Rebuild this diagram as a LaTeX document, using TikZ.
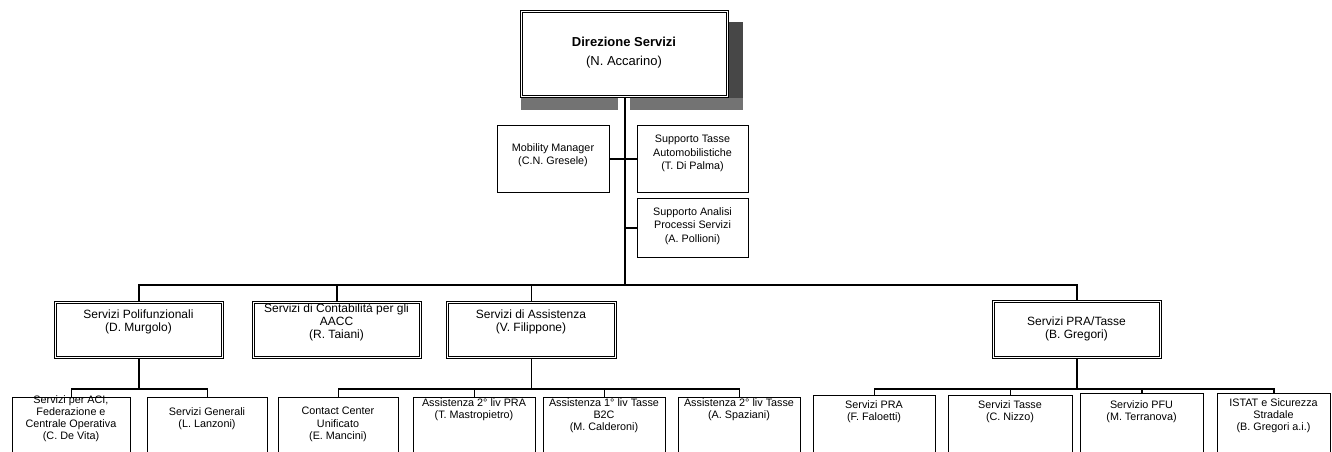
\documentclass[tikz,border=0pt]{standalone}
\usepackage{fontspec}
\setmainfont{Liberation Sans}
\begin{document}
\begin{tikzpicture}[x=1pt,y=-1pt,
  boxbase/.style={anchor=north west, inner sep=0pt, fill=white},
  topbox/.style={boxbase, draw, double, double distance=1.3pt, line width=1.2pt},
  midbox/.style={boxbase, draw, double, double distance=0.8pt, line width=0.9pt},
  sidebox/.style={boxbase, draw, line width=1.3pt},
  leafbox/.style={boxbase, draw, line width=1.3pt},
  ttop/.style={anchor=north, align=center, inner sep=0pt, font=\fontsize{13}{19}\selectfont},
  tside/.style={anchor=north, align=center, inner sep=0pt, font=\fontsize{10.8}{13.5}\selectfont},
  tmid/.style={anchor=north, align=center, inner sep=0pt, font=\fontsize{12}{13}\selectfont},
  tleaf/.style={anchor=north, align=center, inner sep=0pt, font=\fontsize{10.8}{12.3}\selectfont},
  conn/.style={line width=1.5pt},
  trunk/.style={line width=2pt}
]
\useasboundingbox (0,0) rectangle (1332,452);
\clip (0,0) rectangle (1332,452);

% box given by its corners: name, x1, y1, x2, y2, style
\newcommand\orgbox[6]{%
  \node[#6, minimum width={(#4-#2)*1pt}, minimum height={(#5-#3)*1pt}] (#1) at (#2,#3) {};}

% shadow band behind the head box
\fill[black!72] (729,22) rectangle (743,110);
\fill[black!55] (521,98) rectangle (618,110);
\fill[black!55] (630,98) rectangle (743,110);

% buses
\coordinate (busA) at (0,285);
\coordinate (busB) at (0,389);

% head
\orgbox{dir}{521}{11}{727}{96}{topbox}
\node[ttop] (dir-t) at (624,37) {\bfseries Direzione Servizi\\(N. Accarino)};

% staff units
\orgbox{mob}{497}{125}{609}{192}{sidebox}
\orgbox{stasse}{637}{125}{748}{192}{sidebox}
\orgbox{sanal}{637}{198}{748}{257}{sidebox}
\node[tside] (mob-t) at (553,143) {Mobility Manager\\(C.N. Gresele)};
\node[tside] (stasse-t) at (692.5,135) {Supporto Tasse\\Automobilistiche\\(T. Di Palma)};
\node[tside] (sanal-t) at (692.5,207) {Supporto Analisi\\Processi Servizi\\(A. Pollioni)};

% second level
\orgbox{poli}{55}{302}{222}{357}{midbox}
\orgbox{conta}{253}{302}{420}{357}{midbox}
\orgbox{assi}{447}{302}{615}{357}{midbox}
\orgbox{pratasse}{993}{301}{1160}{357}{midbox}
\node[tmid] (poli-t) at (138.5,310) {Servizi Polifunzionali\\(D. Murgolo)};
\node[tmid] (conta-t) at (336.5,303) {Servizi di Contabilità per gli\\AACC\\(R. Taiani)};
\node[tmid] (assi-t) at (531,310) {Servizi di Assistenza\\(V. Filippone)};
\node[tmid] (pratasse-t) at (1076.5,317) {Servizi PRA/Tasse\\(B. Gregori)};

% third level
\orgbox{aci}{12}{397}{130}{470}{leafbox}
\orgbox{gen}{147}{397}{267}{470}{leafbox}
\orgbox{cc}{278}{397}{398}{470}{leafbox}
\orgbox{apra}{413}{397}{535}{470}{leafbox}
\orgbox{ab2c}{543}{397}{665}{470}{leafbox}
\orgbox{atasse}{678}{397}{800}{470}{leafbox}
\orgbox{spra}{813}{395}{935}{470}{leafbox}
\orgbox{stas}{948}{395}{1072}{470}{leafbox}
\orgbox{pfu}{1080}{393}{1203}{470}{leafbox}
\orgbox{istat}{1217}{393}{1330}{470}{leafbox}

\node[tleaf] (aci-t) at (71,395) {Servizi per ACI,\\Federazione e\\Centrale Operativa\\(C. De Vita)};
\node[tleaf] (gen-t) at (207,407) {Servizi Generali\\(L. Lanzoni)};
\node[tleaf] (cc-t) at (338,407) {Contact Center\\Unificato\\(E. Mancini)};
\node[tleaf] (apra-t) at (474,398) {Assistenza 2° liv PRA\\(T. Mastropietro)};
\node[tleaf] (ab2c-t) at (604,398) {Assistenza 1° liv Tasse\\B2C\\(M. Calderoni)};
\node[tleaf] (atasse-t) at (739,398) {Assistenza 2° liv Tasse\\(A. Spaziani)};
\node[tleaf] (spra-t) at (874,400) {Servizi PRA\\(F. Faloetti)};
\node[tleaf] (stas-t) at (1010,400) {Servizi Tasse\\(C. Nizzo)};
\node[tleaf] (pfu-t) at (1141.5,400) {Servizio PFU\\(M. Terranova)};
\node[tleaf] (istat-t) at (1273.5,398) {ISTAT e Sicurezza\\Stradale\\(B. Gregori a.i.)};

% head to staff and to second level
\draw[trunk] (dir.south) -- (dir.south |- busA);
\draw[conn] (mob.east) -- (mob.east -| dir.south);
\draw[conn] (stasse.west) -- (stasse.west -| dir.south);
\draw[conn] (sanal.west) -- (sanal.west -| dir.south);
\draw[conn] (poli.north) -- (poli.north |- busA) -- (pratasse.north |- busA) -- (pratasse.north);
\draw[conn] (conta.north) -- (conta.north |- busA);
\draw[conn] (assi.north) -- (assi.north |- busA);

% second level to third level
\draw[conn] (poli.south) -- (poli.south |- busB);
\draw[conn] (aci.north) -- (aci.north |- busB) -- (gen.north |- busB) -- (gen.north);

\draw[conn] (assi.south) -- (assi.south |- busB);
\draw[conn] (cc.north) -- (cc.north |- busB) -- (atasse.north |- busB) -- (atasse.north);
\draw[conn] (apra.north) -- (apra.north |- busB);
\draw[conn] (ab2c.north) -- (ab2c.north |- busB);

\draw[conn] (pratasse.south) -- (pratasse.south |- busB);
\draw[conn] (spra.north) -- (spra.north |- busB) -- (istat.north |- busB) -- (istat.north);
\draw[conn] (stas.north) -- (stas.north |- busB);
\draw[conn] (pfu.north) -- (pfu.north |- busB);
\end{tikzpicture}
\end{document}
